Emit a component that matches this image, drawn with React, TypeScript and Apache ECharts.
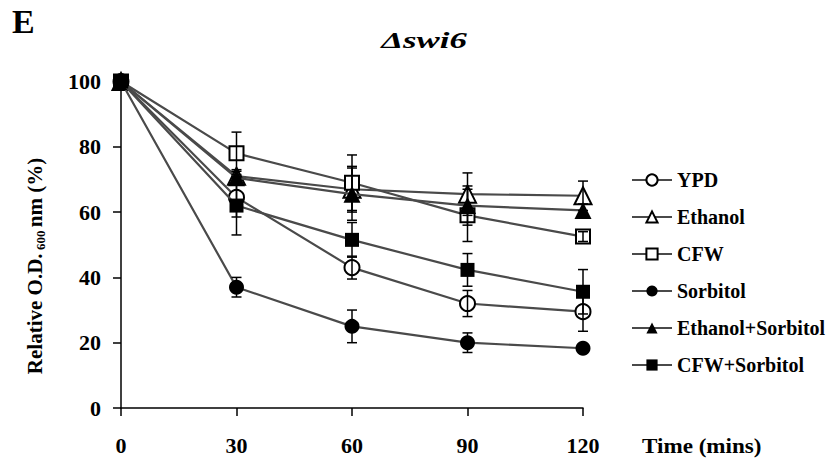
import React, { useEffect, useRef } from "react";
import * as echarts from "echarts";

const times = [0, 30, 60, 90, 120];
const seriesNames = ["YPD", "Ethanol", "CFW", "Sorbitol", "Ethanol+Sorbitol", "CFW+Sorbitol"];
const ypd = [100, 64.5, 43, 32, 29.5];
const ypdErr = [0, 6, 3.5, 4, 6];
const ethanol = [100, 71, 67, 65.5, 65];
const ethanolErr = [0, 2, 7, 6.5, 4.5];
const cfw = [100, 78, 69, 59, 52.5];
const cfwErr = [0, 6.5, 8.5, 8, 1.5];
const sorbitol = [100, 37, 25, 20, 18.3];
const sorbitolErr = [0, 3, 5, 3, 1];
const ethSorb = [100, 70.5, 65.5, 62, 60.5];
const ethSorbErr = [0, 2, 8, 6, 2];
const cfwSorb = [100, 62, 51.5, 42.3, 35.6];
const cfwSorbErr = [0, 9, 5.3, 5, 6.8];
const yTicks = { min: 0, max: 100, interval: 20 };
const xTicks = { min: 0, max: 120, interval: 30 };

const values = [ypd, ethanol, cfw, sorbitol, ethSorb, cfwSorb];
const errors = [ypdErr, ethanolErr, cfwErr, sorbitolErr, ethSorbErr, cfwSorbErr];
const symbols = ["circle", "triangle", "rect", "circle", "triangle", "rect"];
const filled = [false, false, false, true, true, true];

const FONT = "Liberation Serif";

export default function App() {
  const ref = useRef<HTMLDivElement>(null);
  useEffect(() => {
    if (!ref.current) return;
    const chart = echarts.init(ref.current, null, { renderer: "svg" });
    const lineSeries: any[] = seriesNames.map((name, i) => ({
      name,
      type: "line",
      data: times.map((t, j) => [t, values[i][j]]),
      symbol: symbols[i],
      symbolSize: symbols[i] === "triangle" ? 17 : symbols[i] === "rect" ? 14 : 15,
      lineStyle: { color: "#4a4a4a", width: 2.2 },
      itemStyle: {
        color: filled[i] ? "#000" : "#fff",
        borderColor: "#000",
        borderWidth: filled[i] ? 0 : 2,
      },
      z: 2 + i * 0.01,
    }));
    const errSeries: any[] = seriesNames.map((name, i) => ({
      name: name + " err",
      type: "custom",
      z: 5,
      data: times.map((t, j) => [t, values[i][j], errors[i][j]]),
      renderItem: (params: any, api: any) => {
        const x = api.value(0);
        const y = api.value(1);
        const e = api.value(2);
        if (!e) return null;
        const top = api.coord([x, y + e]);
        const bot = api.coord([x, y - e]);
        const hw = 5;
        const st = { stroke: "#000", lineWidth: 1.5 };
        return {
          type: "group",
          children: [
            { type: "line", shape: { x1: top[0], y1: top[1], x2: bot[0], y2: bot[1] }, style: st },
            { type: "line", shape: { x1: top[0] - hw, y1: top[1], x2: top[0] + hw, y2: top[1] }, style: st },
            { type: "line", shape: { x1: bot[0] - hw, y1: bot[1], x2: bot[0] + hw, y2: bot[1] }, style: st },
          ],
        };
      },
    }));
    chart.setOption({
      animation: false,
      backgroundColor: "#fff",
      grid: { left: 121, right: 250, top: 81.5, bottom: 53, containLabel: false },
      xAxis: {
        type: "value",
        min: xTicks.min,
        max: xTicks.max,
        interval: xTicks.interval,
        axisLine: { lineStyle: { color: "#000", width: 1.5 } },
        axisTick: { show: true, inside: false, length: 8, lineStyle: { color: "#000", width: 1.5 } },
        splitLine: { show: false },
        axisLabel: { color: "#000", fontFamily: FONT, fontWeight: "bold", fontSize: 22, margin: 26 },
      },
      yAxis: {
        type: "value",
        min: yTicks.min,
        max: yTicks.max,
        interval: yTicks.interval,
        axisLine: { show: true, lineStyle: { color: "#000", width: 1.5 } },
        axisTick: { show: true, inside: false, length: 8, lineStyle: { color: "#000", width: 1.5 } },
        splitLine: { show: false },
        axisLabel: { color: "#000", fontFamily: FONT, fontWeight: "bold", fontSize: 22, margin: 20 },
      },
      legend: {
        data: seriesNames,
        orient: "vertical",
        left: 631,
        top: 170,
        padding: 0,
        itemWidth: 40,
        itemHeight: 14,
        itemGap: 17,
        textStyle: {
          color: "#000",
          fontFamily: FONT,
          fontWeight: "bold",
          fontSize: 20,
        },
      },
      graphic: [
        {
          type: "text",
          left: 12,
          top: 4,
          style: { text: "E", fontFamily: FONT, fontWeight: "bold", fontSize: 34, fill: "#000" },
        },
        {
          type: "text",
          x: 424,
          y: 40,
          scaleX: 1.45,
          style: {
            text: "Δswi6",
            fontFamily: FONT,
            fontWeight: "bold",
            fontStyle: "italic",
            fontSize: 24,
            fill: "#000",
            align: "center",
            verticalAlign: "middle",
          },
        },
        {
          type: "text",
          x: 642,
          y: 446,
          scaleX: 1.1,
          style: {
            text: "Time (mins)",
            fontFamily: FONT,
            fontWeight: "bold",
            fontSize: 21,
            fill: "#000",
            align: "left",
            verticalAlign: "middle",
          },
        },
        {
          type: "text",
          x: 35,
          y: 266,
          rotation: Math.PI / 2,
          style: {
            text: "{a|Relative O.D.} {s|600} {a|nm (%)}",
            align: "center",
            verticalAlign: "middle",
            fill: "#000",
            rich: {
              a: { fontFamily: FONT, fontWeight: "bold", fontSize: 21, fill: "#000", lineHeight: 24, verticalAlign: "middle" },
              s: { fontFamily: FONT, fontWeight: "bold", fontSize: 13, fill: "#000", lineHeight: 24, verticalAlign: "bottom", padding: [6, 0, 0, 0] },
            },
          },
        },
      ],
      series: [...lineSeries, ...errSeries],
    });
    return () => chart.dispose();
  }, []);
  return (
    <div
      ref={ref}
      style={{ position: "absolute", left: 0, top: 0, width: 833, height: 461, background: "#fff" }}
    />
  );
}
